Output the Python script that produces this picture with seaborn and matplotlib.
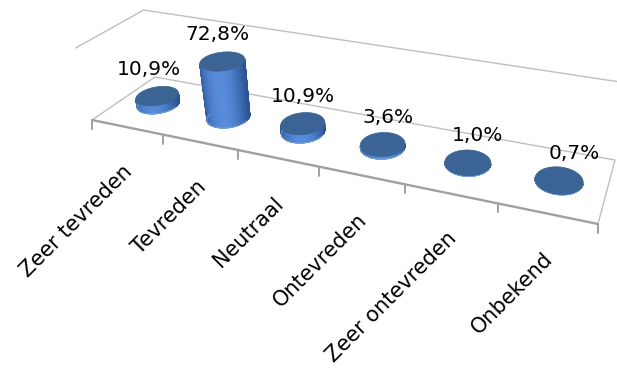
import numpy as np
import pandas as pd
import matplotlib
matplotlib.use("Agg")
import matplotlib.pyplot as plt
from matplotlib.collections import PolyCollection
from matplotlib.patches import Polygon
import seaborn as sns

# Survey result: satisfaction shares in percent
categories = ["Zeer tevreden", "Tevreden", "Neutraal", "Ontevreden",
              "Zeer ontevreden", "Onbekend"]
shares = [10.9, 72.8, 10.9, 3.6, 1.0, 0.7]
value_labels = [f"{v:.1f}%".replace(".", ",") for v in shares]
wall_height = 92.0  # height of the chart walls in value units

sns.set_theme(style="white")
plt.rcParams["font.family"] = ["DejaVu Sans"]

W, H_PX = 617, 371
fig = plt.figure(figsize=(W / 100, H_PX / 100), dpi=100)
fig.patch.set_facecolor("white")
ax = fig.add_axes([0, 0, 1, 1])
ax.set_xlim(0, W)
ax.set_ylim(H_PX, 0)
ax.axis("off")

# --- categorical layout from seaborn (bar centres, widths, heights) ---
cat_ax = fig.add_axes([0, 0, 1, 1])
df = pd.DataFrame({"categorie": categories, "aandeel": shares})
sns.barplot(data=df, x="categorie", y="aandeel", width=0.5, ax=cat_ax)
bars = [(p.get_x() + p.get_width() / 2, p.get_width(), p.get_height())
        for p in cat_ax.patches]
cat_ax.remove()

# --- perspective projection of the 3D chart box ---
n_cat = len(categories)
floor_px = [(92, 120), (598, 224), (615, 160), (155, 77)]  # front-left, front-right, back-right, back-left
floor_uv = [(0, 0), (n_cat, 0), (n_cat, 1), (0, 1)]


def fit_homography(src, dst):
    rows = []
    for (x, y), (u, v) in zip(src, dst):
        rows.append([x, y, 1, 0, 0, 0, -u * x, -u * y, -u])
        rows.append([0, 0, 0, x, y, 1, -v * x, -v * y, -v])
    _, _, vt = np.linalg.svd(np.array(rows, float))
    h = vt[-1].reshape(3, 3)
    return h / h[2, 2]


Hm = fit_homography(floor_uv, floor_px)
vert_vp = np.array([360.0, 1300.0, 1.0])  # vanishing point of vertical lines

# scale so that the wall top at the back-left corner sits at y=10
A = Hm @ np.array([0.0, 1.0, 1.0])
s_h = (10.0 * A[2] - A[1]) / (wall_height * (vert_vp[1] - 10.0))


def proj(u, w, h):
    u = np.atleast_1d(np.asarray(u, float))
    w = np.broadcast_to(np.asarray(w, float), u.shape)
    h = np.broadcast_to(np.asarray(h, float), u.shape)
    p = Hm @ np.vstack([u, w, np.ones_like(u)]) + np.outer(vert_vp, s_h * h)
    return np.column_stack([p[0] / p[2], p[1] / p[2]])


def signed_area(q):
    q = np.asarray(q)
    x, y = q[:, 0], q[:, 1]
    return 0.5 * np.sum(x * np.roll(y, -1) - np.roll(x, -1) * y)


line_c = "#BFBFBF"
# wall top edges
wt = proj([0, 0, n_cat], [0, 1, 1], [wall_height] * 3)
ax.plot(wt[:, 0], wt[:, 1], color=line_c, lw=1.0, zorder=1)
# floor outline
fl = proj([0, 0, n_cat, n_cat], [0, 1, 1, 0], [0, 0, 0, 0])
ax.plot(fl[:, 0], fl[:, 1], color=line_c, lw=1.0, zorder=1)
front = proj([0, n_cat], [0, 0], [0, 0])
ax.plot(front[:, 0], front[:, 1], color="#A0A0A0", lw=1.7, zorder=1)
# category tick marks
for k in range(n_cat + 1):
    p = proj([k], [0], [0])[0]
    ax.plot([p[0], p[0]], [p[1], p[1] + 9], color="#A0A0A0", lw=1.4, zorder=1)

# --- cylinders ---
depth_ratio = 1.18
dark = np.array([0.17, 0.33, 0.58])
light = np.array([0.34, 0.55, 0.86])
cap_col = "#3B6394"
L = np.array([0.45, -1.0])
L = L / np.linalg.norm(L)
t = np.linspace(0, 2 * np.pi, 361)

for (xc, bw, h), lab in zip(bars, value_labels):
    uc = xc + 0.5
    r = bw / 2
    uu = uc + r * np.cos(t)
    ww = 0.5 + (r / depth_ratio) * np.sin(t)
    bot = proj(uu, ww, 0)
    top = proj(uu, ww, h)
    quads = [[bot[i], bot[i + 1], top[i + 1], top[i]] for i in range(len(t) - 1)]
    areas = np.array([signed_area(q) for q in quads])
    i_front = int(np.argmin(np.abs(t[:-1] - 1.5 * np.pi)))
    ref_sign = np.sign(areas[i_front])
    vis_q, cols = [], []
    for i, q in enumerate(quads):
        if areas[i] * ref_sign <= 0:
            continue
        tm = 0.5 * (t[i] + t[i + 1])
        n = np.array([np.cos(tm), np.sin(tm)])
        k = max(0.0, n @ L) ** 1.8
        cols.append(np.clip(dark + (light - dark) * k, 0, 1))
        vis_q.append(q)
    ax.add_collection(PolyCollection(vis_q, facecolors=cols, edgecolors=cols,
                                     linewidths=0.6, zorder=3))
    rim = (t >= np.pi) & (t <= 2 * np.pi)
    ax.plot(bot[rim, 0], bot[rim, 1], color="#7AA3DC", lw=0.6, zorder=3.5)
    ax.add_patch(Polygon(top, closed=True, facecolor=cap_col,
                         edgecolor=cap_col, lw=0.5, zorder=4))
    cap = proj([uc], [0.5], [h])[0]
    ax.text(cap[0] + 0.06 * (cap[0] - 300), cap[1] - 21, lab,
            ha="center", va="baseline", fontsize=14.5, color="black", zorder=5)

# --- category labels along the front edge ---
for (xc, bw, h), name in zip(bars, categories):
    p = proj([xc + 0.5], [0], [0])[0]
    ax.text(p[0] + 7, p[1] + 46, name, rotation=45, rotation_mode="anchor",
            ha="right", va="baseline", fontsize=15, color="black")

fig.savefig("out.png", dpi=100, facecolor="white")
